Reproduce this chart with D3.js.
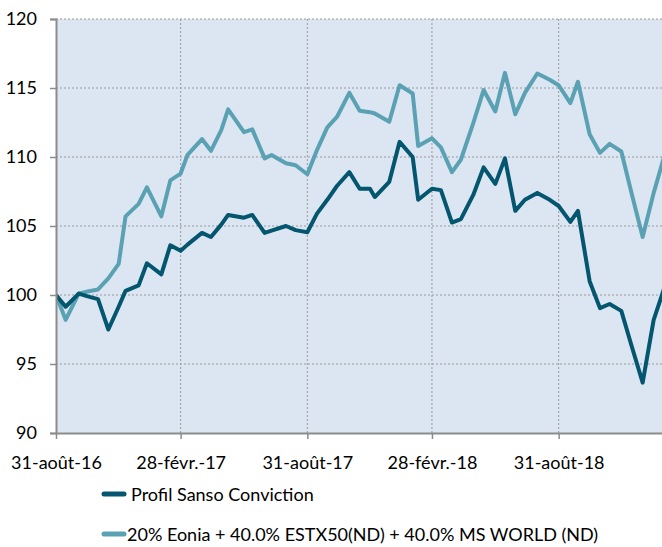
<!DOCTYPE html>
<html>
<head>
<meta charset="utf-8">
<script src="https://cdn.jsdelivr.net/npm/d3@7"></script>
<style>
  html, body { margin: 0; padding: 0; background: #fff; }
  svg { display: block; font-family: Lato, "Open Sans", sans-serif; }
</style>
</head>
<body>
<div id="chart"></div>
<script>
// observation dates (roughly every two weeks)
const dates = [
    "2016-08-31", "2016-09-14", "2016-10-03", "2016-10-16", "2016-10-31", "2016-11-15",
    "2016-11-30", "2016-12-10", "2016-12-29", "2017-01-10", "2017-01-31", "2017-02-13",
    "2017-02-28", "2017-03-10", "2017-03-31", "2017-04-13", "2017-04-28", "2017-05-08",
    "2017-05-31", "2017-06-12", "2017-06-30", "2017-07-10", "2017-07-31", "2017-08-14",
    "2017-08-31", "2017-09-14", "2017-09-29", "2017-10-13", "2017-10-31", "2017-11-15",
    "2017-11-30", "2017-12-07", "2017-12-28", "2018-01-12", "2018-01-31", "2018-02-08",
    "2018-02-28", "2018-03-13", "2018-03-29", "2018-04-11", "2018-04-29", "2018-05-14",
    "2018-05-31", "2018-06-14", "2018-06-29", "2018-07-13", "2018-07-31", "2018-08-18",
    "2018-08-31", "2018-09-17", "2018-09-28", "2018-10-15", "2018-10-30", "2018-11-13",
    "2018-11-30", "2018-12-15", "2018-12-31", "2019-01-16", "2019-01-31"
];

const sansoValues = [
    100.0, 99.15, 100.1, 99.9, 99.7, 97.5, 99.15, 100.3, 100.7, 102.3, 101.5, 103.6,
    103.2, 103.65, 104.5, 104.2, 105.1, 105.8, 105.6, 105.8, 104.5, 104.67, 105.0, 104.7,
    104.55, 105.9, 106.9, 107.9, 108.9, 107.7, 107.7, 107.1, 108.2, 111.1, 110.0, 106.9,
    107.7, 107.6, 105.25, 105.5, 107.25, 109.25, 108.05, 109.9, 106.1, 106.9, 107.4, 106.9,
    106.45, 105.3, 106.1, 101.0, 99.05, 99.35, 98.85, 96.3, 93.65, 98.2, 100.45
];

const benchValues = [
    100.0, 98.2, 100.1, 100.25, 100.4, 101.2, 102.25, 105.7, 106.6, 107.8, 105.7, 108.3,
    108.8, 110.15, 111.3, 110.45, 111.95, 113.45, 111.8, 112.0, 109.9, 110.15, 109.55, 109.4,
    108.75, 110.5, 112.15, 112.9, 114.65, 113.35, 113.25, 113.15, 112.55, 115.2, 114.6, 110.8,
    111.35, 110.7, 108.9, 109.8, 112.45, 114.85, 113.3, 116.1, 113.1, 114.65, 116.05, 115.6,
    115.2, 113.9, 115.45, 111.65, 110.3, 110.95, 110.4, 107.35, 104.2, 107.4, 110.0
];

const seriesNames = [
    "Profil Sanso Conviction",
    "20% Eonia + 40.0% ESTX50(ND) + 40.0% MS WORLD (ND)"
];

const yTicks = [90, 95, 100, 105, 110, 115, 120];
const xTickDates = ["2016-08-31", "2017-02-28", "2017-08-31", "2018-02-28", "2018-08-31"];
const xTickLabels = ["31-août-16", "28-févr.-17", "31-août-17", "28-févr.-18", "31-août-18"];

const width = 662, height = 547;
const plotLeft = 56, plotTop = 19, plotBottom = 433, lastX = 664;
const darkColor = "#03566e", lightColor = "#5aa2b3", axisColor = "#8c8c8c";

const parse = d3.timeParse("%Y-%m-%d");
const dateObjs = dates.map(parse);

const svg = d3.select("#chart")
    .append("svg")
    .attr("width", width)
    .attr("height", height);

const x = d3.scaleTime()
    .domain([dateObjs[0], dateObjs[dateObjs.length - 1]])
    .range([plotLeft, lastX]);

const y = d3.scaleLinear()
    .domain([90, 120])
    .range([plotBottom, plotTop]);

// plot background
svg.append("rect")
    .attr("x", plotLeft)
    .attr("y", plotTop)
    .attr("width", width - plotLeft)
    .attr("height", plotBottom - plotTop)
    .attr("fill", "#dce6f2");

svg.append("defs").append("clipPath")
    .attr("id", "plotclip")
    .append("rect")
    .attr("x", plotLeft)
    .attr("y", 0)
    .attr("width", width - plotLeft)
    .attr("height", plotBottom + 5);

// dotted grid
svg.append("g").selectAll("line")
    .data(yTicks.filter(d => d > 90))
    .join("line")
    .attr("x1", plotLeft)
    .attr("x2", width)
    .attr("y1", d => y(d))
    .attr("y2", d => y(d))
    .attr("stroke", "#9a9a9a")
    .attr("stroke-width", 1)
    .attr("stroke-dasharray", "2,2");

svg.append("g").selectAll("line")
    .data(xTickDates.slice(1).map(parse))
    .join("line")
    .attr("x1", d => x(d))
    .attr("x2", d => x(d))
    .attr("y1", plotTop)
    .attr("y2", plotBottom)
    .attr("stroke", "#9a9a9a")
    .attr("stroke-width", 1)
    .attr("stroke-dasharray", "2,2");

// series
const line = d3.line()
    .x((d, i) => x(dateObjs[i]))
    .y(d => y(d));

const plot = svg.append("g").attr("clip-path", "url(#plotclip)");

plot.append("path")
    .datum(benchValues)
    .attr("fill", "none")
    .attr("stroke", lightColor)
    .attr("stroke-width", 4)
    .attr("stroke-linejoin", "round")
    .attr("d", line);

plot.append("path")
    .datum(sansoValues)
    .attr("fill", "none")
    .attr("stroke", darkColor)
    .attr("stroke-width", 4)
    .attr("stroke-linejoin", "round")
    .attr("d", line);

// axes
const yAxis = svg.append("g")
    .attr("transform", `translate(${plotLeft},0)`)
    .call(d3.axisLeft(y).tickValues(yTicks).tickSize(6).tickPadding(13));

const xAxis = svg.append("g")
    .attr("transform", `translate(0,${plotBottom})`)
    .call(d3.axisBottom(x)
        .tickValues(xTickDates.map(parse))
        .tickSize(6)
        .tickPadding(17)
        .tickFormat((d, i) => xTickLabels[i]));

[yAxis, xAxis].forEach(ax => {
    ax.select(".domain").attr("stroke", axisColor).attr("stroke-width", 2);
    ax.selectAll(".tick line").attr("stroke", axisColor).attr("stroke-width", 1.5);
    ax.selectAll("text")
        .attr("fill", "#000")
        .attr("font-family", "Lato, sans-serif")
        .attr("font-size", "18px");
});
xAxis.select(".domain").attr("d", `M${plotLeft},0.5H${width}`);

// legend
const legend = svg.append("g");
const legendRows = [
    {name: seriesNames[0], color: darkColor, ly: 494, tx: 131},
    {name: seriesNames[1], color: lightColor, ly: 534, tx: 127}
];

legend.selectAll("line")
    .data(legendRows)
    .join("line")
    .attr("x1", 104)
    .attr("x2", 124)
    .attr("y1", d => d.ly)
    .attr("y2", d => d.ly)
    .attr("stroke", d => d.color)
    .attr("stroke-width", 5)
    .attr("stroke-linecap", "round");

legend.selectAll("text")
    .data(legendRows)
    .join("text")
    .attr("x", d => d.tx)
    .attr("y", d => d.ly)
    .attr("dominant-baseline", "central")
    .attr("font-size", "18px")
    .attr("fill", "#000")
    .text(d => d.name);
</script>
</body>
</html>
